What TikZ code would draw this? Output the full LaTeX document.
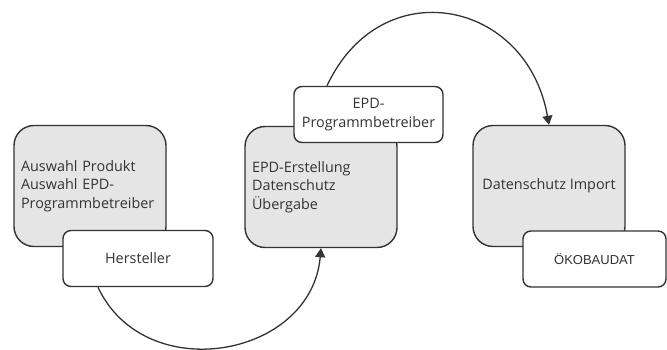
\documentclass[tikz,border=0pt]{standalone}
\usepackage{fontspec}
\setmainfont{Open Sans}
\newfontfamily\arialfont{Liberation Sans}
\usepackage{tikz}
\usetikzlibrary{arrows.meta,positioning}

\begin{document}
\begin{tikzpicture}[
  x=1pt, y=1pt,
  font=\fontsize{14.4}{18.3}\selectfont,
  >=Triangle,
  text=black!80,
  task/.style={
    draw=black!80,
    line width=1.4pt,
    rounded corners=20pt,
    fill=black!10,
    minimum width=152pt,
    minimum height=121pt,
    inner sep=7pt
  },
  role/.style={
    draw=black!80,
    line width=1.4pt,
    rounded corners=8pt,
    fill=white,
    minimum height=56pt,
    align=center
  },
  flow/.style={
    -{Triangle[length=9pt,width=10pt]},
    line width=1.3pt,
    draw=black!80
  }
]
\useasboundingbox (0,0) rectangle (667,349);

%-----------------------------
% Process steps
%-----------------------------
\node[task, text width=138pt, align=left] (prod) at (90,163)
  {Auswahl Produkt\\Auswahl EPD-\\Programmbetreiber};
\node[task, text width=138pt, align=left] (epd) at (321,162)
  {EPD-Erstellung\\Datenschutz\\Übergabe};
\node[task, align=center] (import) at (549,163) {Datenschutz Import};

%-----------------------------
% Actors
%-----------------------------
\node[role, minimum width=150pt] (hersteller) at (138,90.5) {Hersteller};
\node[role, minimum width=149pt] (betreiber) at (368.5,234.5) {EPD-\\Programmbetreiber};
\node[role, minimum width=143pt, font=\arialfont\fontsize{13}{16}\selectfont] (oeko) at (594.5,90) {ÖKOBAUDAT};

%-----------------------------
% Hand-over arcs
%-----------------------------
\draw[flow] ([xshift=-40pt]hersteller.south) to[out=-65, in=-95, looseness=1.25] (epd.south);
\draw[flow] ([xshift=-41.5pt]betreiber.north) to[out=65, in=100, looseness=1.45] (import.north);

\end{tikzpicture}
\end{document}
